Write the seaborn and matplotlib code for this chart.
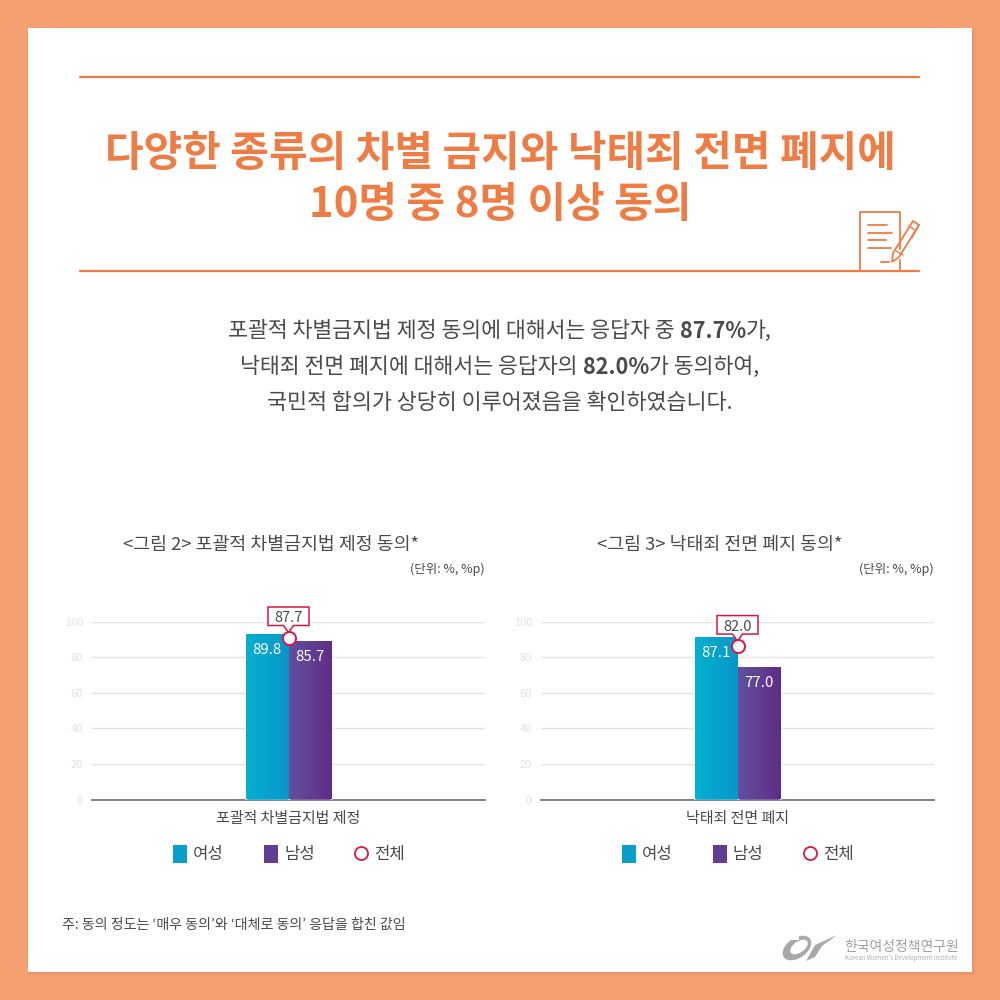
import numpy as np
import pandas as pd
import seaborn as sns
import matplotlib.pyplot as plt
from matplotlib.colors import LinearSegmentedColormap
from matplotlib.patches import Rectangle, Polygon, Ellipse

# bar heights are as drawn against the gridlines, the labels are what is printed
categories = ['포괄적 차별금지법 제정', '낙태죄 전면 폐지']
chart_titles = ['<그림 2> 포괄적 차별금지법 제정 동의*', '<그림 3> 낙태죄 전면 폐지 동의*']
women_heights = [92.7, 91.2]
men_heights = [88.8, 74.3]
total_heights = [91.0, 86.2]
women_labels = ['89.8', '87.1']
men_labels = ['85.7', '77.0']
total_labels = ['87.7', '82.0']
y_ticks = [0, 20, 40, 60, 80, 100]
legend_names = ['여성', '남성', '전체']

ORANGE = '#ee7c45'
BG = '#f4a070'
TEXT = '#4a4a4a'
RED = '#d9173f'

sns.set_theme(style='white')
plt.rcParams['font.family'] = ['Noto Sans CJK KR', 'DejaVu Sans']

fig = plt.figure(figsize=(10, 10), dpi=100, facecolor=BG)
page = fig.add_axes([0, 0, 1, 1])
page.set_xlim(0, 1000)
page.set_ylim(1000, 0)
page.axis('off')
page.add_patch(Rectangle((28, 28), 947, 947, fc='#ea9668', ec='none'))
page.add_patch(Rectangle((28, 28), 944, 944, fc='white', ec='none'))

# header rules and title
page.plot([80, 919], [77, 77], color=ORANGE, lw=1.6)
page.plot([80, 919], [271, 271], color=ORANGE, lw=1.6)
page.text(500, 154, '다양한 종류의 차별 금지와 낙태죄 전면 폐지에', ha='center', va='center',
          fontsize=30.2, fontweight='bold', color=ORANGE)
page.text(500, 205, '10명 중 8명 이상 동의', ha='center', va='center',
          fontsize=30.2, fontweight='bold', color=ORANGE)

# note + pen icon
page.plot([860, 860, 900, 900], [271, 212, 212, 249], color=ORANGE, lw=1.3)
page.plot([900, 900], [260, 271], color=ORANGE, lw=1.3)
for y0, x1 in zip([225, 232.5, 240, 248], [887, 892, 886, 891]):
    page.plot([868, x1], [y0, y0], color=ORANGE, lw=1.3)
page.plot([881, 889], [262, 262], color=ORANGE, lw=1.3)
page.add_patch(Polygon([[892, 262], [893, 253], [913, 221], [919, 225], [899, 257]],
                       fc='white', ec=ORANGE, lw=1.3))
page.plot([896, 903], [251, 255], color=ORANGE, lw=1)
page.plot([909, 915], [226, 230], color=ORANGE, lw=1)
page.plot([919, 912], [225, 238], color=ORANGE, lw=1)


def text_runs(y, runs, fontsize):
    # centred line of text made of (string, weight) pieces
    rend = fig.canvas.get_renderer()
    items = [page.text(0, y, s, ha='left', va='center', fontsize=fontsize, fontweight=w, color=TEXT)
             for s, w in runs]
    # trailing spaces are not measured reliably, so measure with a marker character
    widths = []
    for t, (s, w) in zip(items, runs):
        probe = page.text(0, y, s + '|', fontsize=fontsize, fontweight=w)
        bar_probe = page.text(0, y, '|', fontsize=fontsize, fontweight=w)
        widths.append(probe.get_window_extent(rend).width - bar_probe.get_window_extent(rend).width)
        probe.remove()
        bar_probe.remove()
    x = 500 - sum(widths) / 2
    for t, wd in zip(items, widths):
        t.set_x(x)
        x += wd


# intro text
text_runs(331, [('포괄적 차별금지법 제정 동의에 대해서는 응답자 중 ', 'normal'), ('87.7%', 'bold'), ('가,', 'normal')], 15.6)
text_runs(367, [('낙태죄 전면 폐지에 대해서는 응답자의 ', 'normal'), ('82.0%', 'bold'), ('가 동의하여,', 'normal')], 15.6)
text_runs(403, [('국민적 합의가 상당히 이루어졌음을 확인하였습니다.', 'normal')], 15.7)

cmap_w = LinearSegmentedColormap.from_list('w', ['#05b0cf', '#0a96c9'])
cmap_m = LinearSegmentedColormap.from_list('m', ['#62509f', '#5f2d86'])


def draw_chart(i, left, title_x, unit_x, legend_x):
    ax = fig.add_axes([left / 1000, 1 - 799.5 / 1000, 393 / 1000, 178 / 1000])
    ax.patch.set_alpha(0)
    df = pd.DataFrame({
        'cat': [categories[i]] * 2,
        'group': legend_names[:2],
        'value': [women_heights[i], men_heights[i]],
    })
    sns.barplot(data=df, x='cat', y='value', hue='group', width=0.217, gap=0, ax=ax,
                palette=['#0aa5cc', '#5f3f92'], legend=False, saturation=1, zorder=3)
    ax.set_xlim(-0.5, 0.5)
    ax.set_ylim(0, 100)

    # horizontal gradient on each bar
    for bar, cmap in zip(ax.patches, [cmap_w, cmap_m]):
        x0, w, h = bar.get_x(), bar.get_width(), bar.get_height()
        im = ax.imshow(np.linspace(0, 1, 64).reshape(1, -1), cmap=cmap, aspect='auto',
                       extent=[x0, x0 + w, 0, h], zorder=3.5)
        im.set_clip_path(bar)
    ax.set_xlim(-0.5, 0.5)
    ax.set_ylim(0, 100)

    ax.set_yticks(y_ticks)
    ax.tick_params(axis='y', length=0, labelsize=8, labelcolor='#e2e2e2', pad=6.5)
    ax.tick_params(axis='x', length=0, labelsize=10.8, labelcolor=TEXT, pad=9)
    ax.set_xlabel('')
    ax.set_ylabel('')
    ax.grid(axis='y', color='#e4e4e4', lw=1, zorder=0)
    ax.set_axisbelow(True)
    for s in ['top', 'right', 'left']:
        ax.spines[s].set_visible(False)
    ax.spines['bottom'].set_color('#777777')
    ax.spines['bottom'].set_linewidth(1.3)

    # value labels inside bars
    for bar, lab in zip(ax.patches, [women_labels[i], men_labels[i]]):
        ax.annotate(lab, (bar.get_x() + bar.get_width() / 2, bar.get_height()),
                    xytext=(0, -11.5), textcoords='offset points', ha='center', va='center',
                    color='white', fontsize=10.8, zorder=6)

    # total marker with callout box, box placed in page pixels relative to the marker
    ax.scatter([0], [total_heights[i]], s=88, fc='white', ec=RED, lw=1.4, zorder=8, clip_on=False)
    mx, my = page.transData.inverted().transform(ax.transData.transform((0, total_heights[i])))
    ax.add_patch(Polygon([[mx - 20.5, my - 30.5], [mx + 20.5, my - 30.5], [mx + 20.5, my - 12],
                          [mx + 5, my - 12], [mx, my - 5], [mx - 5, my - 12], [mx - 20.5, my - 12]],
                         transform=page.transData, fc='white', ec=RED, lw=1.1, zorder=7, clip_on=False))
    ax.text(mx, my - 19.5, total_labels[i], transform=page.transData, ha='center', va='center',
            fontsize=10.5, color=TEXT, zorder=9, clip_on=False)

    # chart title and unit
    page.text(title_x, 545, chart_titles[i], ha='center', va='center', fontsize=13.2, color=TEXT)
    page.text(unit_x, 569, '(단위: %, %p)', ha='right', va='center', fontsize=9, color=TEXT)

    # legend
    for k, (cx, name) in enumerate(zip(legend_x, legend_names)):
        if k < 2:
            page.add_patch(Rectangle((cx - 7, 845), 14, 18, fc=['#0a9fcb', '#5f3f92'][k], ec='none'))
        else:
            page.scatter([cx], [853], s=88, fc='white', ec=RED, lw=1.3)
        page.text(cx + 13, 855, name, ha='left', va='center', fontsize=12, color=TEXT)


draw_chart(0, 92, 271, 485, [180, 271, 361])
draw_chart(1, 541, 720, 934, [629, 720, 810])

# footnote
page.text(62, 925, '주: 동의 정도는 ‘매우 동의’와 ‘대체로 동의’ 응답을 합친 값임', ha='left', va='center',
          fontsize=10.1, color=TEXT)

# institute mark
page.add_patch(Ellipse((797, 948), 32, 20, angle=-35, fc='#a9a9a9', ec='none'))
page.add_patch(Ellipse((799, 947), 20, 11, angle=-35, fc='white', ec='none'))
page.add_patch(Rectangle((790, 934), 9, 6, fc='white', ec='none'))
page.add_patch(Polygon([[806, 961], [815, 945], [837, 935], [822, 946], [815, 957]], fc='#a9a9a9', ec='none'))
page.text(844, 947, '한국여성정책연구원', ha='left', va='center', fontsize=10, color='#a0a0a0')
page.text(845, 958, "Korean Women's Development Institute", ha='left', va='center', fontsize=4.4, color='#b0b0b0')

plt.savefig('out.png', dpi=100, facecolor=BG)
